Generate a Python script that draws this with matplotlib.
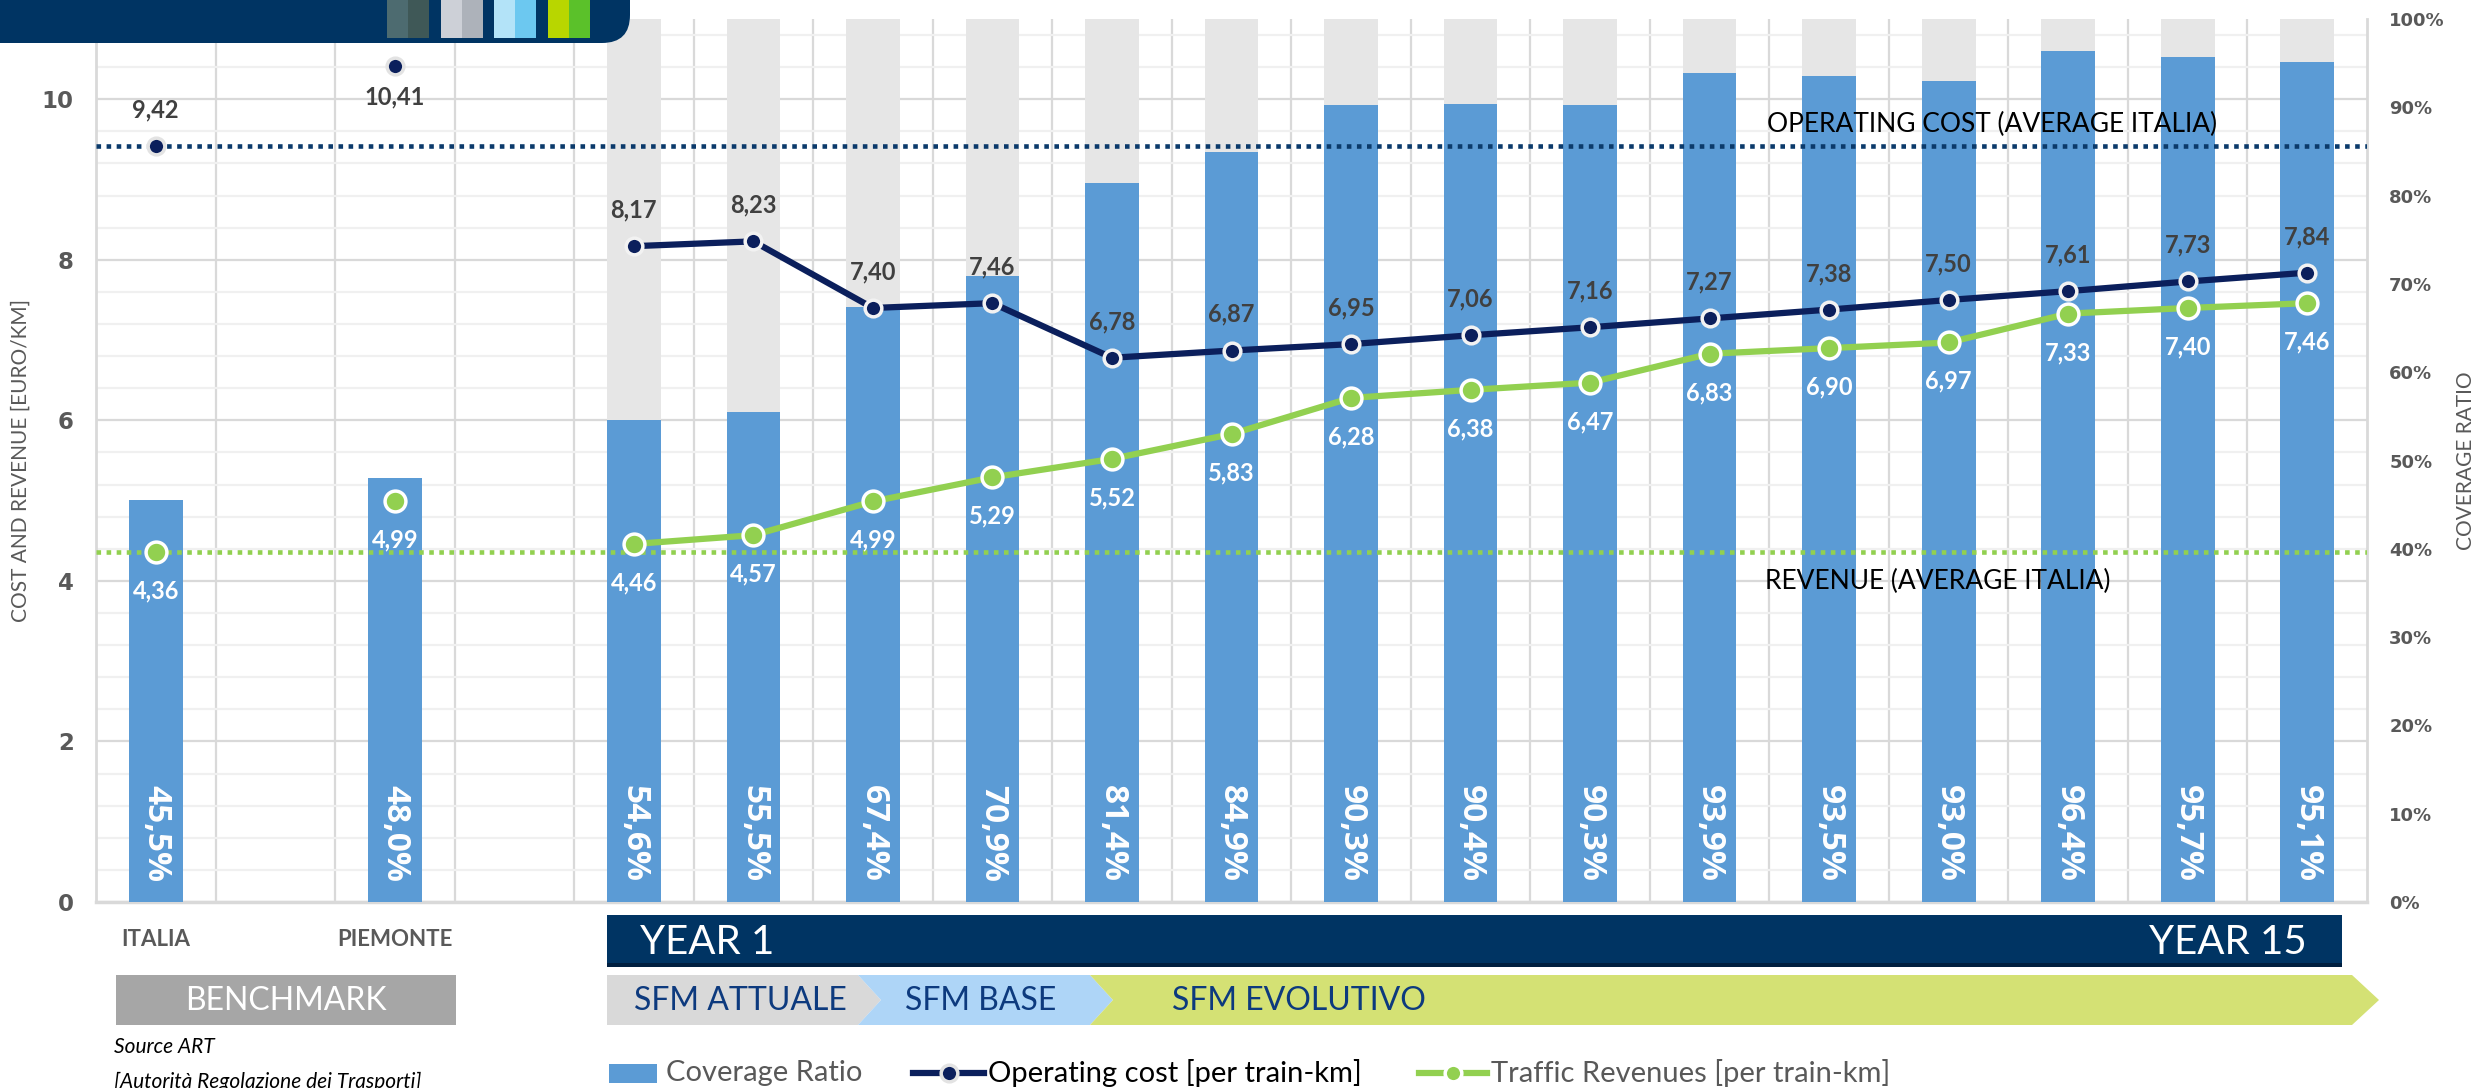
import matplotlib
matplotlib.use('Agg')
import matplotlib.pyplot as plt
from matplotlib.patches import Rectangle, Polygon, FancyBboxPatch
from matplotlib.lines import Line2D
from matplotlib.ticker import MultipleLocator, PercentFormatter
import matplotlib.transforms as mtransforms
import numpy as np

plt.rcParams['font.family'] = ['Lato', 'DejaVu Sans']

# benchmark (source ART)
bench_names = ['ITALIA', 'PIEMONTE']
bench_x = [0, 2]
bench_cov = [45.5, 48.0]
bench_cost = [9.42, 10.41]
bench_rev = [4.36, 4.99]

# SFM plan, year 1 .. year 15
year_x = list(range(4, 19))
year_cov = [54.6, 55.5, 67.4, 70.9, 81.4, 84.9, 90.3, 90.4, 90.3, 93.9, 93.5, 93.0, 96.4, 95.7, 95.1]
year_cost = [8.17, 8.23, 7.40, 7.46, 6.78, 6.87, 6.95, 7.06, 7.16, 7.27, 7.38, 7.50, 7.61, 7.73, 7.84]
year_rev = [4.46, 4.57, 4.99, 5.29, 5.52, 5.83, 6.28, 6.38, 6.47, 6.83, 6.90, 6.97, 7.33, 7.40, 7.46]

avg_cost_italia = 9.42
avg_rev_italia = 4.36

phases = ['SFM ATTUALE', 'SFM BASE', 'SFM EVOLUTIVO']

NAVY = '#0B1F5C'
GREEN = '#92D050'
BLUE = '#5B9BD5'
LGRAY = '#E6E6E6'
DARK = '#003463'
TXT = '#595959'
GRID = '#D9D9D9'


def fmt(v, d=2):
    return f'{v:.{d}f}'.replace('.', ',')


W, H = 2481, 1088
fig = plt.figure(figsize=(W / 100, H / 100), dpi=100)


def P(x, y):
    # full-size pixel position -> figure fraction
    return (x / W, 1 - y / H)


rect = [96 / W, 1 - 902 / H, (2367 - 96) / W, (902 - 19) / H]
ax = fig.add_axes(rect)          # left scale + grid
ax2 = ax.twinx()                 # coverage ratio bars
ax3 = fig.add_axes(rect, sharex=ax, sharey=ax)  # cost / revenue lines
ax.set_zorder(1)
ax2.set_zorder(2)
ax3.set_zorder(3)
ax2.patch.set_visible(False)
ax3.patch.set_visible(False)
ax3.axis('off')

ax.set_xlim(-0.5, 18.5)
ax.set_ylim(0, 11)
ax2.set_ylim(0, 100)

# grid
ax.set_yticks([0, 2, 4, 6, 8, 10])
ax.yaxis.set_minor_locator(MultipleLocator(0.4))
ax.set_xticks([])
ax.set_xticks(np.arange(0.5, 18, 1), minor=True)
ax.grid(which='major', axis='y', color=GRID, lw=1.6)
ax.grid(which='minor', axis='y', color='#F0F0F0', lw=1.6)
ax.grid(which='minor', axis='x', color=GRID, lw=1.6)
ax.tick_params(axis='both', which='both', length=0)
ax.tick_params(axis='y', pad=16, labelcolor=TXT)
for lab in ax.get_yticklabels():
    lab.set_fontfamily('DejaVu Sans')
    lab.set_fontweight('bold')
    lab.set_fontsize(16.5)
for s in ['top', 'right']:
    ax.spines[s].set_visible(False)
ax.spines['left'].set_color(GRID)
ax.spines['left'].set_linewidth(2)
ax.spines['bottom'].set_color(GRID)
ax.spines['bottom'].set_linewidth(2.5)

ax2.set_yticks(range(0, 101, 10))
ax2.yaxis.set_major_formatter(PercentFormatter(decimals=0))
ax2.tick_params(axis='y', length=0, pad=16, labelcolor=TXT)
for lab in ax2.get_yticklabels():
    lab.set_fontfamily('DejaVu Sans')
    lab.set_fontweight('bold')
    lab.set_fontsize(13)
for s in ['top', 'left', 'bottom']:
    ax2.spines[s].set_visible(False)
ax2.spines['right'].set_color(GRID)
ax2.spines['right'].set_linewidth(2)

ax.set_ylabel('COST AND REVENUE [EURO/KM]', fontsize=15, color=TXT, labelpad=8)
ax2.set_ylabel('COVERAGE RATIO', fontsize=15, color=TXT, labelpad=8, rotation=90)

# bars
ax2.bar(year_x, [100] * len(year_x), width=0.45, color=LGRAY, zorder=1)
all_x = bench_x + year_x
all_cov = bench_cov + year_cov
ax2.bar(all_x, all_cov, width=0.45, color=BLUE, zorder=2)
for x, v in zip(all_x, all_cov):
    ax2.text(x, 2.3, fmt(v, 1) + '%', rotation=-90, ha='center', va='bottom',
             color='white', fontsize=24, fontweight='bold',
             family=['Open Sans', 'DejaVu Sans'], zorder=3)

# average lines
ax3.axhline(avg_cost_italia, color='#0B3A6B', lw=3.3, ls=(0, (1, 1.2)), zorder=1)
ax3.axhline(avg_rev_italia, color=GREEN, lw=3.3, ls=(0, (1, 1.2)), zorder=1)
ax3.annotate('OPERATING COST (AVERAGE ITALIA)', (13.48, avg_cost_italia), xytext=(0, 6),
             textcoords='offset points', va='bottom', ha='left', fontsize=19, color='black')
ax3.annotate('REVENUE (AVERAGE ITALIA)', (13.46, avg_rev_italia), xytext=(0, -12),
             textcoords='offset points', va='top', ha='left', fontsize=19, color='black')

# lines
ax3.plot(year_x, year_cost, color=NAVY, lw=4.5, marker='o', ms=12, mfc=NAVY,
         mec='#F2F2F2', mew=2.5, zorder=4)
ax3.plot(bench_x, bench_cost, ls='none', marker='o', ms=12, mfc=NAVY, mec='#E3E3E3',
         mew=2.5, zorder=4)
ax3.plot(year_x, year_rev, color=GREEN, lw=4.5, marker='o', ms=15, mfc=GREEN,
         mec='white', mew=2.5, zorder=4)
ax3.plot(bench_x, bench_rev, ls='none', marker='o', ms=15, mfc=GREEN, mec='white',
         mew=2.5, zorder=4)

for i, (x, v) in enumerate(zip(bench_x + year_x, bench_cost + year_cost)):
    dy = -22 if i == 1 else 26
    ax3.annotate(fmt(v), (x, v), xytext=(0, dy), textcoords='offset points',
                 ha='center', va='center', fontsize=17, fontweight='bold',
                 color='#404040', zorder=5)
for x, v in zip(bench_x + year_x, bench_rev + year_rev):
    ax3.annotate(fmt(v), (x, v), xytext=(0, -28), textcoords='offset points',
                 ha='center', va='center', fontsize=17, fontweight='bold',
                 color='white', zorder=5)

# category labels under the axis
blend = mtransforms.blended_transform_factory(ax.transData, fig.transFigure)
for x, name in zip(bench_x, bench_names):
    fig.text(x, P(0, 940)[1], name, transform=blend, ha='center', va='center',
             fontsize=16, fontweight='bold', color=TXT)

# year bar
x0, y0 = P(607, 967)
x1, y1 = P(2342, 915)
fig.add_artist(Rectangle((x0, y0), x1 - x0, y1 - y0, transform=fig.transFigure,
                         facecolor=DARK, edgecolor='none'))
fig.add_artist(Rectangle((x0, y0), x1 - x0, 4 / H, transform=fig.transFigure,
                         facecolor='#001F40', edgecolor='none'))
fig.text(*P(640, 942), 'YEAR 1', ha='left', va='center', fontsize=29, color='white')
fig.text(*P(2307, 942), 'YEAR 15', ha='right', va='center', fontsize=29, color='white')

# benchmark box
bx0, by0 = P(116, 1025)
bx1, by1 = P(456, 975)
fig.add_artist(Rectangle((bx0, by0), bx1 - bx0, by1 - by0, transform=fig.transFigure,
                         facecolor='#A6A6A6', edgecolor='none'))
fig.text(*P(286, 1001), 'BENCHMARK', ha='center', va='center', fontsize=23, color='white')

# phase chevrons
top, mid, bot = 975, 1000, 1025
chev = [
    ([(607, top), (858, top), (881, mid), (858, bot), (607, bot)], '#D9D9D9', 634),
    ([(858, top), (1090, top), (1113, mid), (1090, bot), (858, bot), (881, mid)], '#AED5F7', 905),
    ([(1090, top), (2352, top), (2379, mid), (2352, bot), (1090, bot), (1113, mid)], '#D4E174', 1172),
]
for (pts, col, tx), name in zip(chev, phases):
    fig.add_artist(Polygon([P(*p) for p in pts], closed=True, transform=fig.transFigure,
                           facecolor=col, edgecolor='none'))
    fig.text(*P(tx, 1001), name, ha='left', va='center', fontsize=23, color='#0D3A7E')

# header box top-left (drawn above the axes)
fig.add_artist(FancyBboxPatch((-0.3, (H - 43) / 100), 6.6, 1.0,
                              boxstyle='round,pad=0,rounding_size=0.28',
                              transform=fig.dpi_scale_trans, facecolor=DARK,
                              edgecolor='none', zorder=10))
swatches = [('#4D6B70', '#3F5857'), ('#CDD0D7', '#ADB2BA'),
            ('#B3E3F8', '#6CC8F0'), ('#B8D600', '#5BC12A')]
for k, (c1, c2) in enumerate(swatches):
    sx = 387 + k * 53.5
    for j, c in enumerate((c1, c2)):
        fig.add_artist(Rectangle(((sx + j * 21) / 100, (H - 38) / 100), 0.21, 0.5,
                                 transform=fig.dpi_scale_trans, facecolor=c,
                                 edgecolor='none', zorder=11))

# source
fig.text(*P(114, 1047), 'Source ART', ha='left', va='center', fontsize=15,
         style='italic', color='black')
fig.text(*P(114, 1082), '[Autorità Regolazione dei Trasporti]', ha='left', va='center',
         fontsize=15, style='italic', color='black')

# legend (drawn by hand at the bottom)
ly = 1073
fig.add_artist(Rectangle(P(609, 1083), 48 / W, 19 / H, transform=fig.transFigure,
                         facecolor=BLUE, edgecolor='none'))
fig.text(*P(666, ly), 'Coverage Ratio', ha='left', va='center', fontsize=21, color=TXT)
for (xa, xb, col, mec, label, tcol) in [
        (913, 984, NAVY, '#E3E3E3', 'Operating cost [per train-km]', 'black'),
        (1419, 1487, GREEN, 'white', 'Traffic Revenues [per train-km]', TXT)]:
    fig.add_artist(Line2D([xa / W, xb / W], [P(0, ly)[1]] * 2, transform=fig.transFigure,
                          color=col, lw=4.5))
    fig.add_artist(Line2D([(xa + xb) / 2 / W], [P(0, ly)[1]], transform=fig.transFigure,
                          marker='o', ms=12, mfc=col, mec=mec, mew=2.5))
    fig.text((xb + 4) / W, P(0, ly)[1], label, ha='left', va='center', fontsize=21,
             color=tcol)

fig.savefig('out.png', dpi=100)
